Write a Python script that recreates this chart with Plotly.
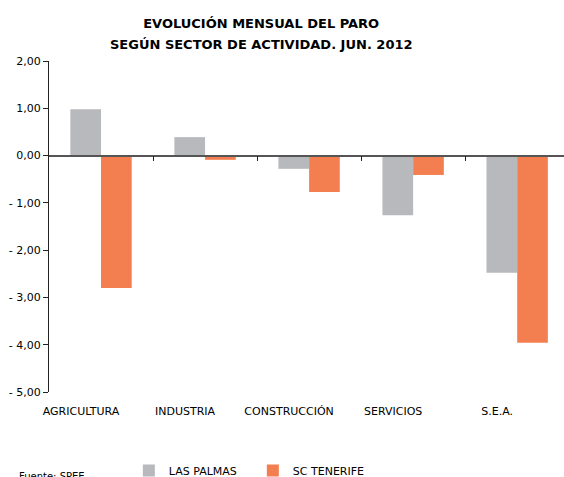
import plotly.graph_objects as go

categories = ["AGRICULTURA", "INDUSTRIA", "CONSTRUCCIÓN", "SERVICIOS", "S.E.A."]
las_palmas = [0.98, 0.39, -0.28, -1.26, -2.48]
sc_tenerife = [-2.80, -0.09, -0.77, -0.41, -3.96]
y_ticks = [2, 1, 0, -1, -2, -3, -4, -5]
y_tick_text = ["2,00", "1,00", "0,00", "- 1,00", "- 2,00", "- 3,00", "- 4,00", "- 5,00"]
boundary_ticks = [0.5, 1.5, 2.5, 3.5]
title_line1 = "EVOLUCIÓN MENSUAL DEL PARO"
title_line2 = "SEGÚN SECTOR DE ACTIVIDAD. JUN. 2012"

FONT = "DejaVu Sans"
GRAY = "#b8b9bd"
ORANGE = "#f37f51"
TITLE_FONT = dict(family=FONT, size=13, color="black", weight="bold")

fig = go.Figure()
fig.add_trace(go.Bar(name="LAS PALMAS", x=categories, y=las_palmas, marker_color=GRAY,
                     marker_line_width=0))
fig.add_trace(go.Bar(name="SC TENERIFE", x=categories, y=sc_tenerife, marker_color=ORANGE,
                     marker_line_width=0))
# empty helper trace so the zero-level axis (xaxis2) is drawn
fig.add_trace(go.Scatter(x=[], y=[], xaxis="x2", yaxis="y", showlegend=False,
                         hoverinfo="skip", mode="markers"))

fig.update_layout(
    width=564, height=477,
    margin=dict(l=49, r=0, t=61, b=85, autoexpand=False),
    paper_bgcolor="white", plot_bgcolor="white",
    font=dict(family=FONT, size=11, color="black"),
    barmode="group", bargap=0.41, bargroupgap=0,
    title=dict(text=title_line1, font=TITLE_FONT,
               x=0.412, xanchor="center", xref="paper", yref="container",
               y=1 - 23.3 / 477, yanchor="middle"),
    xaxis=dict(type="category", range=[-0.5, 4.45], showline=False, ticks="",
               showgrid=False, zeroline=False, ticklabelstandoff=11, ticklabelshift=-20,
               tickfont=dict(size=11), automargin=False),
    xaxis2=dict(overlaying="x", type="linear", range=[-0.5, 4.45], anchor="free",
                position=5 / 7, showline=True, linecolor="#555555", linewidth=1.5,
                ticks="outside", ticklen=5, tickcolor="#222222", tickwidth=1,
                tickvals=boundary_ticks, showticklabels=False, showgrid=False,
                zeroline=False, automargin=False),
    yaxis=dict(range=[-5, 2], tickvals=y_ticks, ticktext=y_tick_text, showline=True,
               linecolor="#222222", linewidth=1, ticks="outside", ticklen=5,
               tickcolor="#222222", showgrid=False, zeroline=False,
               tickfont=dict(size=11), automargin=False),
    showlegend=True,
    legend=dict(orientation="h", x=0.155, xanchor="left", y=-0.193, yanchor="top",
                font=dict(size=11), entrywidth=79, traceorder="normal",
                bgcolor="rgba(0,0,0,0)"),
    annotations=[
        dict(text=title_line2, xref="paper", yref="paper", x=0.412, y=(392 - 45) / 331,
             xanchor="center", yanchor="middle", showarrow=False, font=TITLE_FONT),
        dict(text="Fuente: SPEE", xref="paper", yref="paper", x=-0.062, y=-0.232,
             xanchor="left", yanchor="top", showarrow=False,
             font=dict(size=10, color="black")),
    ],
)

fig.write_html("out.html", config={"displayModeBar": False},
               post_script="document.body.style.margin='0';document.body.style.overflow='hidden';")
